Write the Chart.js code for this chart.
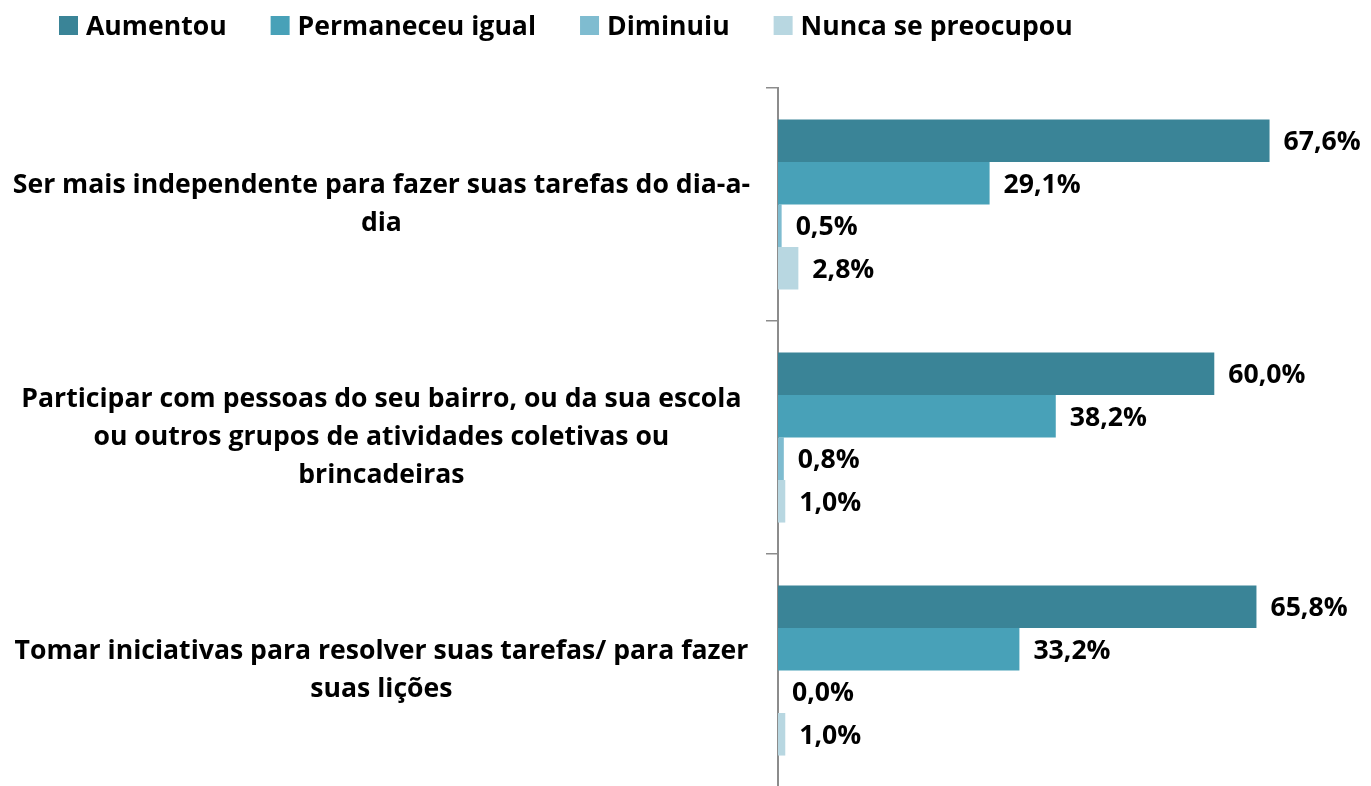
<!DOCTYPE html>
<html>
<head>
<meta charset="utf-8">
<script src="https://cdn.jsdelivr.net/npm/chart.js@4.4.0/dist/chart.umd.min.js"></script>
<style>
  html, body { margin: 0; padding: 0; background: #fff; overflow: hidden; }
  #wrap { width: 1371px; height: 787px; position: relative; }
</style>
</head>
<body>
<div id="wrap"><canvas id="myChart"></canvas></div>
<script>
// categories and series (values in %)
var categories = [
    ["Ser mais independente para fazer suas tarefas do dia-a-", "dia"],
    ["Participar com pessoas do seu bairro, ou da sua escola", "ou outros grupos de atividades coletivas ou", "brincadeiras"],
    ["Tomar iniciativas para resolver suas tarefas/ para fazer", "suas lições"]
];
var seriesNames = ["Aumentou", "Permaneceu igual", "Diminuiu", "Nunca se preocupou"];
var aumentou = [67.6, 60.0, 65.8];
var permaneceu = [29.1, 38.2, 33.2];
var diminuiu = [0.5, 0.8, 0.0];
var nunca = [2.8, 1.0, 1.0];
var colors = ['#3a8497', '#48a1b8', '#7fbcd0', '#b8d7e1'];

var FONT = '"Open Sans"';
var FSIZE = 26.6;

// value labels at the end of each bar
var valueLabels = {
    id: 'valueLabels',
    afterDatasetsDraw: function(chart) {
        var ctx = chart.ctx;
        ctx.save();
        ctx.font = 'bold ' + FSIZE + 'px ' + FONT;
        ctx.fillStyle = '#000';
        ctx.textAlign = 'left';
        ctx.textBaseline = 'middle';
        chart.data.datasets.forEach(function(ds, i) {
            chart.getDatasetMeta(i).data.forEach(function(bar, j) {
                var txt = ds.data[j].toFixed(1).replace('.', ',') + '%';
                ctx.fillText(txt, bar.x + 14, bar.y + 2);
            });
        });
        ctx.restore();
    }
};

// legend drawn across the top
var topLegend = {
    id: 'topLegend',
    afterDraw: function(chart) {
        var ctx = chart.ctx;
        ctx.save();
        ctx.font = 'bold ' + FSIZE + 'px ' + FONT;
        ctx.textBaseline = 'middle';
        ctx.textAlign = 'left';
        var x = 59;
        chart.data.datasets.forEach(function(ds) {
            ctx.fillStyle = ds.backgroundColor;
            ctx.fillRect(x, 16, 19, 19);
            ctx.fillStyle = '#000';
            ctx.fillText(ds.label, x + 27, 27);
            x += 27 + ctx.measureText(ds.label).width + 44;
        });
        ctx.restore();
    }
};

var ctx = document.getElementById('myChart').getContext('2d');
var chart = new Chart(ctx, {
    type: 'bar',
    data: {
        labels: categories,
        datasets: [
            { label: seriesNames[0], data: aumentou, backgroundColor: colors[0] },
            { label: seriesNames[1], data: permaneceu, backgroundColor: colors[1] },
            { label: seriesNames[2], data: diminuiu, backgroundColor: colors[2] },
            { label: seriesNames[3], data: nunca, backgroundColor: colors[3] }
        ]
    },
    options: {
        indexAxis: 'y',
        responsive: true,
        maintainAspectRatio: false,
        animation: false,
        devicePixelRatio: 1,
        datasets: {
            bar: { categoryPercentage: 0.73, barPercentage: 1.0, borderWidth: 0 }
        },
        layout: { padding: { top: 88, right: 84, left: 0, bottom: 0 } },
        plugins: {
            legend: { display: false },
            tooltip: { enabled: false }
        },
        scales: {
            x: { display: false, min: 0, max: 70 },
            y: {
                afterFit: function(scale) {
                    scale.width = 778;
                    scale.paddingTop = 0;
                    scale.paddingBottom = 0;
                },
                grid: { drawOnChartArea: false, drawTicks: true, tickLength: 12, color: '#8c8c8c', lineWidth: 1.5 },
                border: { display: true, color: '#8c8c8c', width: 2 },
                ticks: {
                    crossAlign: 'center',
                    padding: 16,
                    color: '#000',
                    font: { family: FONT, size: FSIZE, weight: 'bold', lineHeight: '38px' }
                }
            }
        }
    },
    plugins: [valueLabels, topLegend]
});
</script>
</body>
</html>
